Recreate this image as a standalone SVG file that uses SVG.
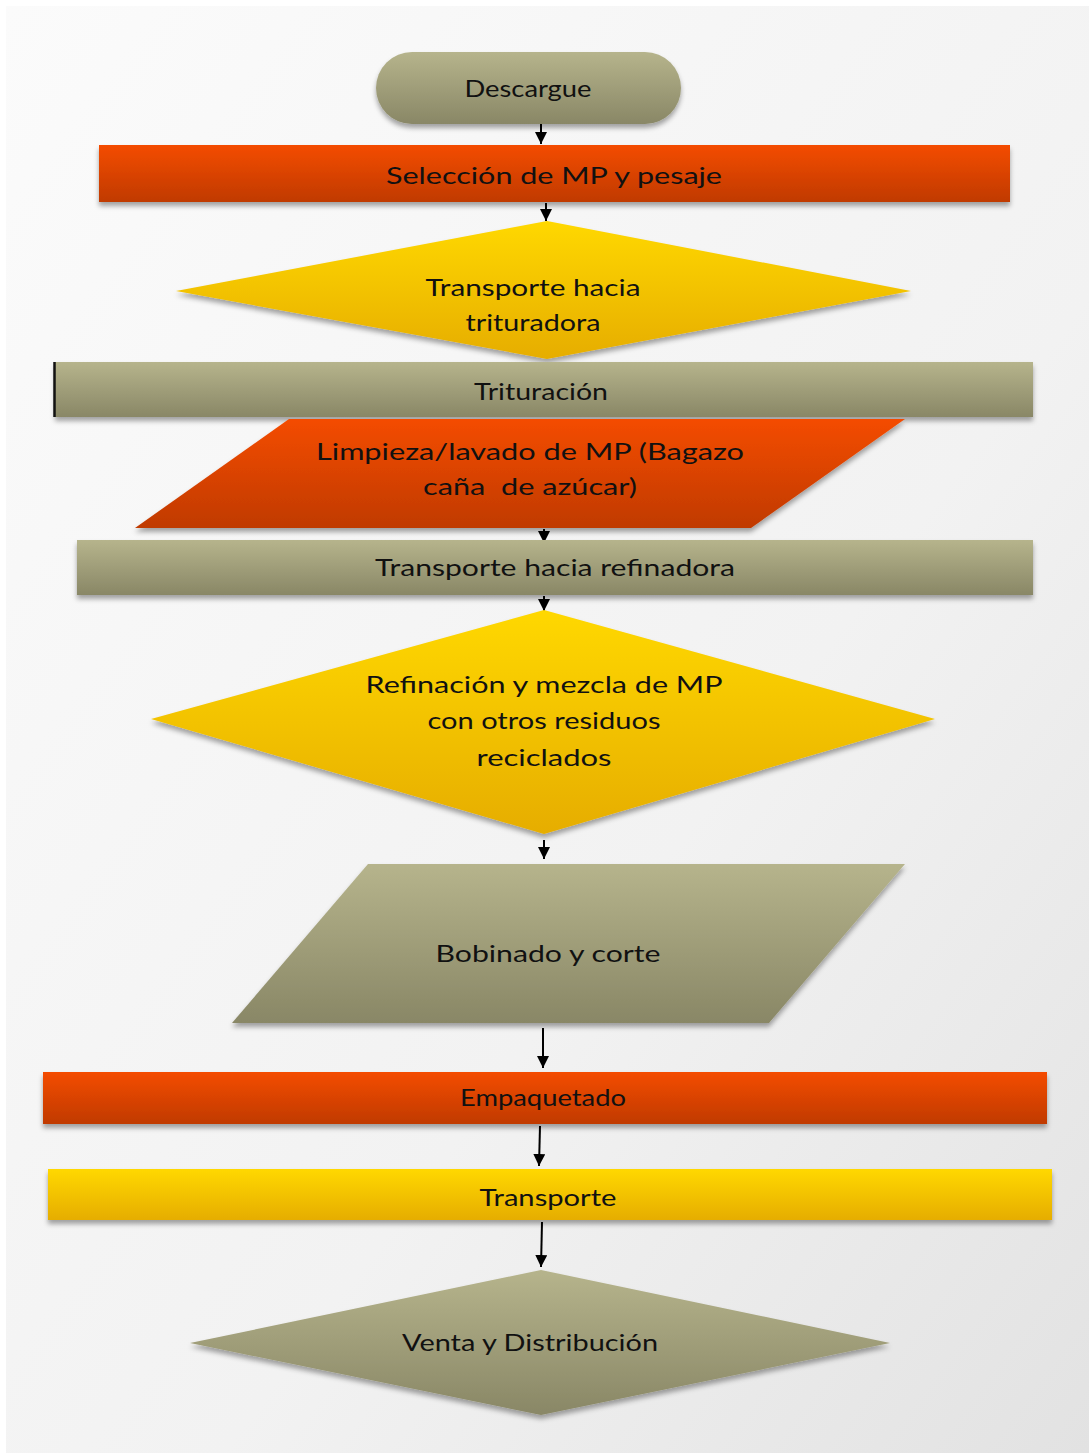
<svg xmlns="http://www.w3.org/2000/svg" width="1089" height="1453" viewBox="0 0 1089 1453">
<defs>
<linearGradient id="bg" x1="0" y1="0" x2="1" y2="1">
<stop offset="0" stop-color="#fbfbfb"/>
<stop offset="0.6" stop-color="#f2f2f2"/>
<stop offset="1" stop-color="#e2e2e2"/>
</linearGradient>
<linearGradient id="olive" x1="0" y1="0" x2="0" y2="1">
<stop offset="0" stop-color="#b6b48c"/>
<stop offset="1" stop-color="#898766"/>
</linearGradient>
<linearGradient id="orange" x1="0" y1="0" x2="0" y2="1">
<stop offset="0" stop-color="#f44c04"/>
<stop offset="1" stop-color="#c03a06"/>
</linearGradient>
<linearGradient id="yellow" x1="0" y1="0" x2="0" y2="1">
<stop offset="0" stop-color="#ffd800"/>
<stop offset="1" stop-color="#e6ad00"/>
</linearGradient>
<filter id="sh" x="-10%" y="-20%" width="120%" height="150%">
<feDropShadow dx="0" dy="4" stdDeviation="2.5" flood-color="#000" flood-opacity="0.35"/>
</filter>
<marker id="ah" markerWidth="12" markerHeight="12" viewBox="0 0 12 12" refX="12" refY="6" orient="auto" markerUnits="userSpaceOnUse">
<path d="M0,0 L12,6 L0,12 Z" fill="#000"/>
</marker>
</defs>
<style>
text{font-family:"Lato","Open Sans","DejaVu Sans",sans-serif;font-size:24px;fill:#111;text-anchor:middle;white-space:pre}
.conn line{stroke:#000;stroke-width:2}
</style>
<rect x="0" y="0" width="1089" height="1453" fill="#ffffff"/>
<rect x="6" y="6" width="1083" height="1447" fill="url(#bg)"/>

<g id="conn" class="conn">
<line x1="541" y1="124" x2="541" y2="144" marker-end="url(#ah)"/>
<line x1="546" y1="203" x2="546" y2="221" marker-end="url(#ah)"/>
<line x1="544" y1="529" x2="544" y2="543" marker-end="url(#ah)"/>
<line x1="544" y1="596" x2="544" y2="611" marker-end="url(#ah)"/>
<line x1="544" y1="840" x2="544" y2="859" marker-end="url(#ah)"/>
<line x1="543" y1="1028" x2="543" y2="1068" marker-end="url(#ah)"/>
<line x1="540" y1="1126" x2="539" y2="1166" marker-end="url(#ah)"/>
<line x1="542" y1="1222" x2="541" y2="1267" marker-end="url(#ah)"/>
</g>

<g id="n1">
<rect x="376" y="52" width="305" height="72" rx="36" fill="url(#olive)" filter="url(#sh)"/>
<text x="528" y="97" textLength="127" lengthAdjust="spacingAndGlyphs">Descargue</text>
</g>
<g id="n2">
<rect x="99" y="145" width="911" height="57" fill="url(#orange)" filter="url(#sh)"/>
<text x="554" y="184" textLength="336" lengthAdjust="spacingAndGlyphs">Selección de MP y pesaje</text>
</g>
<g id="n3">
<polygon points="547,221 911,291 547,359 176,291" fill="url(#yellow)" filter="url(#sh)"/>
<text x="533" y="296" textLength="215" lengthAdjust="spacingAndGlyphs">Transporte hacia</text>
<text x="533" y="331" textLength="135" lengthAdjust="spacingAndGlyphs">trituradora</text>
</g>
<g id="n4">
<rect x="55" y="362" width="978" height="55" fill="url(#olive)" filter="url(#sh)"/>
<line x1="54.5" y1="362" x2="54.5" y2="417" stroke="#111" stroke-width="2.5"/>
<text x="541" y="400" textLength="134" lengthAdjust="spacingAndGlyphs">Trituración</text>
</g>
<g id="n5">
<polygon points="289,419 905,419 751,528 135,528" fill="url(#orange)" filter="url(#sh)"/>
<text x="530" y="460" textLength="428" lengthAdjust="spacingAndGlyphs">Limpieza/lavado de MP (Bagazo</text>
<text x="530" y="495" textLength="214" lengthAdjust="spacingAndGlyphs" xml:space="preserve">caña  de azúcar)</text>
</g>
<g id="n6">
<rect x="77" y="540" width="956" height="55" fill="url(#olive)" filter="url(#sh)"/>
<text x="555" y="576" textLength="360" lengthAdjust="spacingAndGlyphs">Transporte hacia refinadora</text>
</g>
<g id="n7">
<polygon points="544,610 935,719 544,834 151,719" fill="url(#yellow)" filter="url(#sh)"/>
<text x="544" y="693" textLength="357" lengthAdjust="spacingAndGlyphs">Refinación y mezcla de MP</text>
<text x="544" y="729" textLength="233" lengthAdjust="spacingAndGlyphs">con otros residuos</text>
<text x="544" y="766" textLength="135" lengthAdjust="spacingAndGlyphs">reciclados</text>
</g>
<g id="n8">
<polygon points="368,864 905,864 769,1023 232,1023" fill="url(#olive)" filter="url(#sh)"/>
<text x="548" y="962" textLength="225" lengthAdjust="spacingAndGlyphs">Bobinado y corte</text>
</g>
<g id="n9">
<rect x="43" y="1072" width="1004" height="52" fill="url(#orange)" filter="url(#sh)"/>
<text x="543" y="1106" textLength="166" lengthAdjust="spacingAndGlyphs">Empaquetado</text>
</g>
<g id="n10">
<rect x="48" y="1169" width="1004" height="51" fill="url(#yellow)" filter="url(#sh)"/>
<text x="548" y="1206" textLength="137" lengthAdjust="spacingAndGlyphs">Transporte</text>
</g>
<g id="n11">
<polygon points="541,1270 890,1343 541,1415 190,1343" fill="url(#olive)" filter="url(#sh)"/>
<text x="530" y="1351" textLength="256" lengthAdjust="spacingAndGlyphs">Venta y Distribución</text>
</g>
</svg>
